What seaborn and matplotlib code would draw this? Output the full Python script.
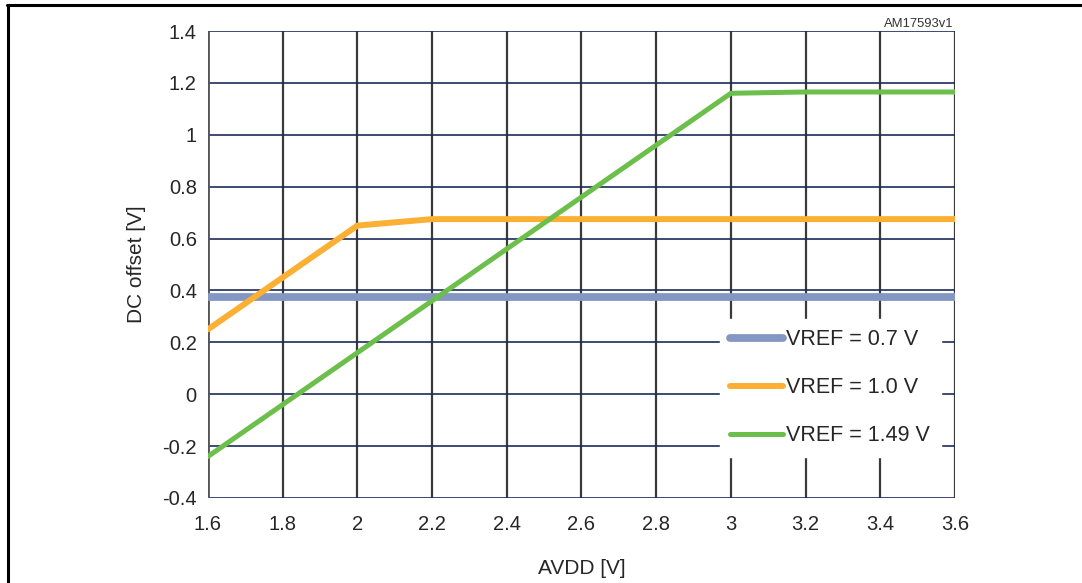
import matplotlib
matplotlib.use('Agg')
import matplotlib.pyplot as plt
import seaborn as sns
import pandas as pd

# values
avdd_07 = [1.6, 3.6]
offset_07 = [0.375, 0.375]

avdd_10 = [1.6, 2.0, 2.2, 3.6]
offset_10 = [0.25, 0.65, 0.675, 0.675]

avdd_149 = [1.6, 3.0, 3.2, 3.6]
offset_149 = [-0.24, 1.16, 1.165, 1.165]

x_ticks = [1.6, 1.8, 2.0, 2.2, 2.4, 2.6, 2.8, 3.0, 3.2, 3.4, 3.6]
x_labels = ['1.6', '1.8', '2', '2.2', '2.4', '2.6', '2.8', '3', '3.2', '3.4', '3.6']
y_ticks = [-0.4, -0.2, 0, 0.2, 0.4, 0.6, 0.8, 1.0, 1.2, 1.4]
y_labels = ['-0.4', '-0.2', '0', '0.2', '0.4', '0.6', '0.8', '1', '1.2', '1.4']

sns.set_style('white')
plt.rcParams['font.family'] = ['Liberation Sans', 'DejaVu Sans']

fig = plt.figure(figsize=(10.82, 5.83), dpi=100)
ax = fig.add_axes([0.1922, 0.1458, 0.6904, 0.801])

# grid
for xv in x_ticks:
    ax.axvline(xv, color='#3a3a3a', lw=1.6, zorder=1)
for yv in y_ticks:
    ax.axhline(yv, color='#1c2b5a', lw=1.2, zorder=1)

df07 = pd.DataFrame({'AVDD': avdd_07, 'offset': offset_07})
df10 = pd.DataFrame({'AVDD': avdd_10, 'offset': offset_10})
df149 = pd.DataFrame({'AVDD': avdd_149, 'offset': offset_149})

sns.lineplot(data=df07, x='AVDD', y='offset', ax=ax, color='#8497c2', lw=5.6,
             label='VREF = 0.7 V', zorder=3, solid_capstyle='round')
sns.lineplot(data=df10, x='AVDD', y='offset', ax=ax, color='#fbb034', lw=4.3,
             label='VREF = 1.0 V', zorder=4, solid_capstyle='round')
sns.lineplot(data=df149, x='AVDD', y='offset', ax=ax, color='#6cbf4a', lw=3.6,
             label='VREF = 1.49 V', zorder=5, solid_capstyle='round')

ax.set_xlim(1.6, 3.6)
ax.set_ylim(-0.4, 1.4)
ax.set_xticks(x_ticks)
ax.set_xticklabels(x_labels)
ax.set_yticks(y_ticks)
ax.set_yticklabels(y_labels)
ax.tick_params(labelsize=14.5, length=0)
ax.tick_params(axis='x', pad=12)
ax.tick_params(axis='y', pad=8)
for s in ax.spines.values():
    s.set_visible(False)
ax.axvline(1.6, color='#555555', lw=2, zorder=2)

ax.set_xlabel('AVDD [V]', fontsize=15, labelpad=18)
ax.set_ylabel('DC offset [V]', fontsize=15, labelpad=12)

leg = ax.legend(loc='lower left', bbox_to_anchor=(0.685, 0.088), frameon=True,
                facecolor='white', edgecolor='white', framealpha=1, fancybox=False,
                fontsize=15.5, handlelength=2.45, handletextpad=0.14,
                labelspacing=1.25, borderpad=0.5, borderaxespad=0)
leg.set_zorder(10)

fig.text(0.881, 0.954, 'AM17593v1', fontsize=9.4, ha='right', va='baseline', color='#333333')

# cropped caption fragment and page frame
fig.text(0.305, 1.012, 'g', fontsize=15, fontweight='bold', ha='left', va='baseline')
fig.add_artist(plt.Line2D([0.0075, 0.0075], [0, 0.991], color='black', lw=2.2,
                          transform=fig.transFigure))
fig.add_artist(plt.Line2D([0.0065, 1.0], [0.991, 0.991], color='black', lw=2.2,
                          transform=fig.transFigure))

fig.savefig('out.png', dpi=100)
